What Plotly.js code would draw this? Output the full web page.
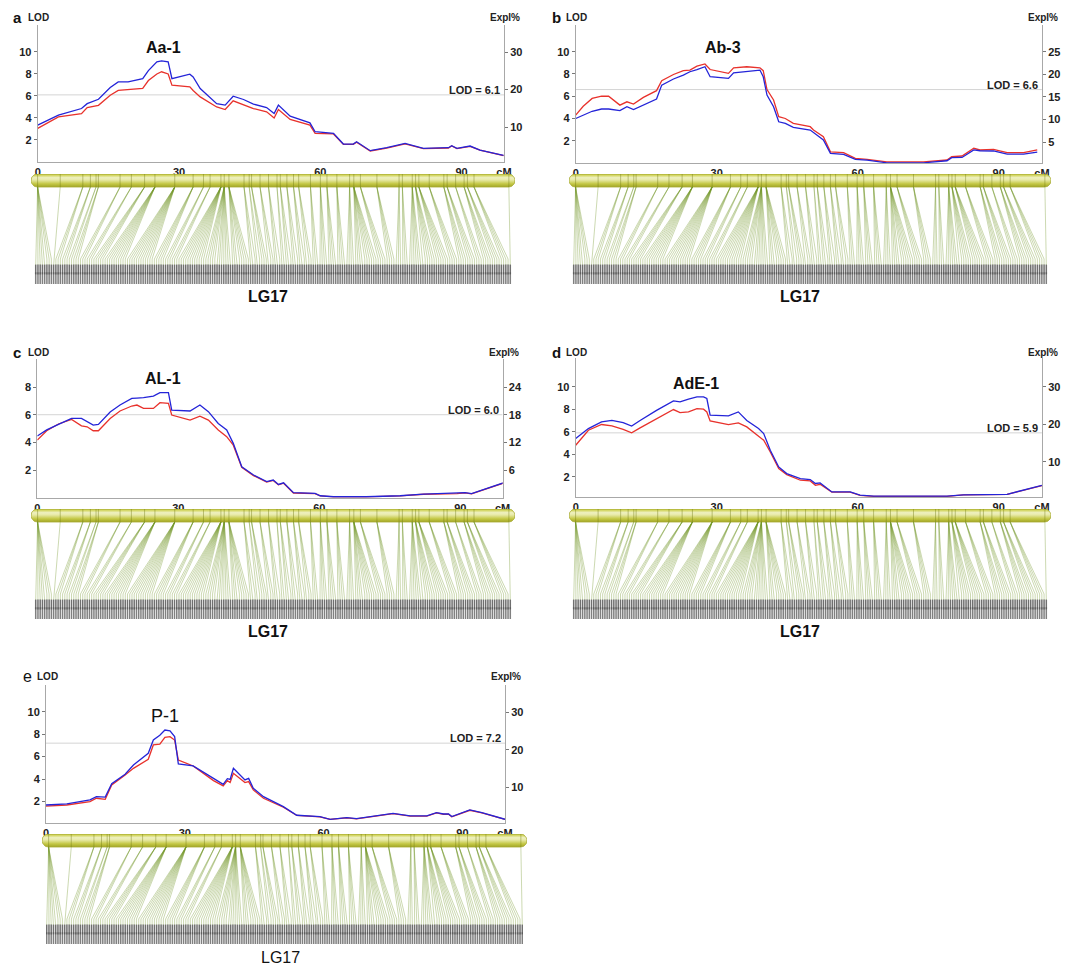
<!DOCTYPE html>
<html><head><meta charset="utf-8">
<script src="https://cdn.plot.ly/plotly-3.0.1.min.js"></script>
<style>html,body{margin:0;padding:0;background:#fff}#chart{width:1065px;height:965px}</style>
</head><body><div id="chart"></div>
<script>
// ---------------- DATA ----------------
const panelLetters = ['a','b','c','d','e'];
const qtlNames = ['Aa-1','Ab-3','AL-1','AdE-1','P-1'];
const thresholds = [6.1, 6.6, 6.0, 5.9, 7.2];
const groupName = 'LG17';
const xTickVals = [0, 30, 60, 90];
const xTickText = ['0', '30', '60', '90'];

// Panel a: Aa-1
const aCM   = [0,4.4,9.3,10.5,12.9,15.4,17.1,19.2,22.3,23.5,25.3,26.3,27.7,28.5,32.3,33.0,34.5,38.0,39.8,41.5,43.7,45.8,48.6,50.2,51.1,53.6,57.8,58.9,62.8,64.9,67.0,67.7,70.6,74.1,78.0,81.9,87.2,87.9,89.0,91.8,93.9,98.9];
const aBlue = [3.35,4.26,4.86,5.3,5.7,6.77,7.28,7.28,7.58,8.3,9.1,9.18,9.1,7.58,7.98,7.73,6.68,5.3,5.17,5.98,5.68,5.26,4.95,4.41,5.17,4.17,3.56,2.75,2.6,1.63,1.63,1.84,1.03,1.3,1.69,1.24,1.3,1.48,1.24,1.45,1.09,0.6];
const aRed  = [3.05,4.1,4.4,4.95,5.15,6.07,6.5,6.6,6.68,7.4,8.0,8.2,8.0,6.98,6.83,6.5,5.92,5.0,4.77,5.56,5.17,4.86,4.56,4.0,4.77,3.87,3.35,2.6,2.55,1.6,1.6,1.8,1.0,1.27,1.65,1.22,1.27,1.45,1.22,1.42,1.07,0.58];
// Panel b: Ab-3
const bCM   = [0,1.6,3.5,5.5,7.0,9.4,10.9,12.3,14.4,17.2,18.3,20.8,22.9,24.3,25.8,27.5,28.6,32.5,33.6,36.4,39.2,39.9,40.7,42.1,43.2,44.6,46.3,49.9,50.6,52.7,54.2,57.0,59.5,62.0,66.2,74.0,79.0,80.0,82.2,84.7,86.0,88.9,91.8,95.3,98.2];
const bRed  = [4.3,5.1,5.8,6.0,6.0,5.2,5.5,5.3,5.9,6.5,7.4,7.95,8.3,8.35,8.7,8.9,8.4,8.05,8.55,8.65,8.55,8.3,6.6,5.66,4.16,4.0,3.56,3.26,2.96,2.37,1.0,0.93,0.42,0.33,0.1,0.1,0.27,0.57,0.63,1.32,1.17,1.23,0.93,0.93,1.17];
const bBlue = [4.0,4.3,4.65,4.85,4.85,4.7,5.06,4.8,5.2,5.75,7.0,7.55,7.9,8.2,8.4,8.65,7.75,7.6,8.1,8.25,8.35,7.75,6.1,5.06,3.7,3.56,3.2,2.96,2.75,2.07,0.87,0.78,0.33,0.25,0.02,0.02,0.2,0.48,0.5,1.17,1.1,1.08,0.8,0.8,0.98];
// Panel c: AL-1
const cCM   = [0,2,4.5,7.3,9.4,10.6,11.9,13,15.5,17.6,20.1,21.2,22.6,24.7,26.1,27.9,28.6,32.5,34.6,36.4,38.5,40.3,41.7,43.5,46,48.8,50.2,51.3,52.4,54.5,59.1,60.2,63,70,77.2,82.2,89.3,91,92.4,99.2];
const cBlue = [4.46,4.9,5.3,5.73,5.73,5.5,5.25,5.3,6.2,6.7,7.18,7.2,7.23,7.35,7.6,7.6,6.34,6.27,6.7,6.22,5.37,4.9,3.93,2.24,1.64,1.16,1.28,0.96,1.08,0.36,0.31,0.14,0.07,0.07,0.14,0.26,0.31,0.36,0.29,1.08];
const cRed  = [4.17,4.84,5.33,5.66,5.2,5.13,4.84,4.84,5.73,6.27,6.63,6.7,6.46,6.46,6.87,6.82,5.98,5.61,5.9,5.61,4.89,4.41,3.8,2.2,1.6,1.13,1.25,0.93,1.05,0.34,0.3,0.13,0.06,0.06,0.13,0.25,0.3,0.35,0.28,1.06];
// Panel d: AdE-1
const dCM   = [0,2.7,5.5,7.7,10.1,11.9,13.7,17.2,20.8,22.2,24,25.8,27.2,27.9,28.6,32.5,34.6,36.4,38.9,40,41.4,43.2,44.9,47.8,49.9,51,52,54.5,58.4,60.5,63.4,68.3,79,82.5,89.6,91.8,99.2];
const dBlue = [5.4,6.28,6.87,7.0,6.8,6.5,7.0,7.9,8.74,8.65,8.9,9.1,9.1,8.95,7.47,7.4,7.76,7.0,6.28,5.84,4.36,2.87,2.28,1.84,1.75,1.4,1.45,0.65,0.65,0.36,0.27,0.27,0.27,0.39,0.44,0.44,1.24];
const dRed  = [4.8,6.13,6.64,6.52,6.2,5.9,6.34,7.17,7.97,7.7,7.76,8.06,8.0,7.76,6.96,6.64,6.79,6.43,5.6,5.24,4.2,2.72,2.19,1.69,1.63,1.24,1.33,0.63,0.63,0.35,0.26,0.26,0.26,0.38,0.43,0.43,1.22];
// Panel e: P-1
const eCM   = [0,4.5,9.5,10.9,12.8,14.2,17.1,18.9,22.1,23.2,24.6,25.7,26.8,27.8,28.6,31.8,36.2,38.3,39.2,39.8,40.5,43,43.8,44.8,47,51.3,54.2,59.2,61.4,65,67.1,75,78.7,82.3,84.4,85.9,87,87.7,91.6,94.2,99.2];
const eBlue = [1.7,1.8,2.15,2.44,2.4,3.6,4.44,5.26,6.3,7.48,7.9,8.37,8.3,7.78,5.35,5.17,4.07,3.54,4.04,3.98,4.96,3.93,4.07,3.19,2.44,1.56,0.79,0.67,0.43,0.58,0.49,0.96,0.73,0.73,1.02,0.9,0.9,0.67,1.26,1.02,0.43];
const eRed  = [1.6,1.7,2.0,2.3,2.2,3.48,4.37,4.96,5.76,7.04,7.12,7.72,7.78,7.48,5.7,5.17,3.87,3.4,3.87,3.7,4.52,3.69,3.78,3.04,2.3,1.5,0.77,0.65,0.42,0.56,0.47,0.93,0.71,0.71,1.0,0.88,0.88,0.65,1.23,1.0,0.42];

// Linkage map LG17: marker positions (cM) and number of markers at each position
const markerCM    = [0,4.8,9.6,11.2,12.4,12.9,17.5,19.9,22.7,24.9,29.1,33.0,35.2,36.6,38.9,39.6,40.6,43.8,44.9,45.4,47.2,49.0,50.8,51.5,52.9,54.3,55.4,57.9,60.0,61.4,63.5,66.2,67.1,68.5,72.0,76.7,77.4,79.5,80.2,80.9,83.1,86.2,86.9,88.7,90.5,91.2,92.6,100.0];
const markerCount = [8,1,3,3,2,3,3,3,5,10,12,5,3,3,12,12,8,3,2,3,3,3,2,3,3,3,3,3,4,4,4,4,10,4,4,3,3,6,6,6,4,4,4,3,4,4,4,1];

const lodTicks  = [[2,4,6,8,10],[2,4,6,8,10],[2,4,6,8],[2,4,6,8,10],[2,4,6,8,10]];
const explTicks = [[10,20,30],[5,10,15,20,25],[6,12,18,24],[10,20,30],[10,20,30]];

// ---------------- LAYOUT (pixel geometry) ----------------
const W = 1065, H = 965;
const series = [[aCM,aRed,aBlue],[bCM,bRed,bBlue],[cCM,cRed,cBlue],[dCM,dRed,dBlue],[eCM,eRed,eBlue]];
const geo = [
 {L:37.7, s:4.71, xmax:99,   top:25,  bot:162,   lodR:[0,12.45], explR:[0.67,37.2], tx:163,   ty:48,  tb:true,  barTop:174, barL:31,  barR:515,  lgx:268, lgy:296, lgb:true,  letx:17,  lety:17},
 {L:575.7,s:4.7,  xmax:99.2, top:25,  bot:163,   lodR:[0,12.4],  explR:[0.35,30.9], tx:722.7, ty:48,  tb:true,  barTop:174, barL:569, barR:1051, lgx:800, lgy:296, lgb:true,  letx:556, lety:17},
 {L:37.3, s:4.7,  xmax:99,   top:359, bot:497.7, lodR:[0,10.03], explR:[0,30.1],    tx:163,   ty:378, tb:true,  barTop:509, barL:31,  barR:515,  lgx:268, lgy:631, lgb:true,  letx:17,  lety:352},
 {L:575.7,s:4.7,  xmax:99.2, top:358, bot:497,   lodR:[0.2,12.55],explR:[0.67,37.7],tx:695.7, ty:383, tb:true,  barTop:509, barL:569, barR:1051, lgx:800, lgy:631, lgb:true,  letx:556, lety:352},
 {L:46,   s:4.627,xmax:99.2, top:685, bot:823,   lodR:[0.1,12.37],explR:[0.4,37.3], tx:165,   ty:716, tb:false, barTop:834, barL:42,  barR:527,  lgx:280, lgy:957, lgb:false, letx:27,  lety:676}
];
const MAPR = [-1.4, 101.3];   // map x range (cM) covered by the chromosome bar
const MAPH = 110;             // map y-units (=px) from bar top to label bottom
const FONT = 'Liberation Sans, Arial, sans-serif';
const NARROW = 'Liberation Sans Narrow, Arial Narrow, Liberation Sans, Arial, sans-serif';
const AX = '#a8a8a8';
const TF = {family: NARROW, size: 11, color: '#222', weight: 'bold'};

const px2x = p => p / W, py2y = p => 1 - p / H;
const nm = (k, n) => k + (n === 1 ? '' : n);

const traces = [];
const layout = {
  width: W, height: H, margin: {l:0, r:0, t:0, b:0}, showlegend: false, hovermode: false,
  paper_bgcolor: '#fff', plot_bgcolor: 'rgba(0,0,0,0)', font: {family: FONT, color: '#222'},
  annotations: [], shapes: []
};

// flatten map markers
const mPos = [];
markerCM.forEach((p, i) => { for (let k = 0; k < markerCount[i]; k++) mPos.push(p); });
const nM = mPos.length;
const labStart = -0.4, labEnd = 100.3;
const labPos = mPos.map((_, i) => labStart + (labEnd - labStart) * i / (nM - 1));

geo.forEach((G, i) => {
  const xa = 2*i+1, xb = 2*i+2, ya = 3*i+1, yb = 3*i+2, yc = 3*i+3;
  const [cm, red, blue] = series[i];
  // axes
  layout[nm('xaxis', xa)] = {domain:[px2x(G.L), px2x(G.L + G.xmax*G.s)], range:[0, G.xmax], anchor:nm('y', ya),
    showline:true, linecolor:AX, linewidth:1, ticks:'', showgrid:false, zeroline:false,
    tickmode:'array', tickvals:[...xTickVals, G.xmax], ticktext:[...xTickText, 'cM'], tickfont:TF, fixedrange:true};
  layout[nm('yaxis', ya)] = {domain:[py2y(G.bot), py2y(G.top)], range:G.lodR, anchor:nm('x', xa), side:'left',
    showline:true, linecolor:AX, linewidth:1, ticks:'outside', ticklen:3, tickcolor:'#777', showgrid:false, zeroline:false,
    tickmode:'array', tickvals:lodTicks[i], tickfont:TF, fixedrange:true};
  layout[nm('yaxis', yb)] = {overlaying:nm('y', ya), range:G.explR, anchor:nm('x', xa), side:'right',
    showline:true, linecolor:AX, linewidth:1, ticks:'outside', ticklen:3, tickcolor:'#777', showgrid:false, zeroline:false,
    tickmode:'array', tickvals:explTicks[i], tickfont:TF, fixedrange:true};
  layout[nm('xaxis', xb)] = {domain:[px2x(G.barL), px2x(G.barR)], range:MAPR, anchor:nm('y', yc), visible:false, fixedrange:true};
  layout[nm('yaxis', yc)] = {domain:[py2y(G.barTop + MAPH), py2y(G.barTop)], range:[0, MAPH], anchor:nm('x', xb), visible:false, fixedrange:true};

  const xr = nm('x', xa), yr = nm('y', ya);
  // threshold line
  layout.shapes.push({type:'line', xref:xr, yref:yr, x0:0, x1:G.xmax, y0:thresholds[i], y1:thresholds[i],
    line:{color:'#d4d4d4', width:1}, layer:'below'});
  layout.annotations.push({xref:xr, yref:yr, x:G.xmax, y:thresholds[i], xanchor:'right', yanchor:'bottom', xshift:-2, yshift:-3,
    text:'LOD = ' + thresholds[i].toFixed(1), showarrow:false, font:{family:NARROW, size:11, color:'#222', weight:'bold'}});
  // curves
  traces.push({type:'scatter', mode:'lines', x:cm, y:red, xaxis:xr, yaxis:yr, line:{color:'#e8322c', width:1.3}});
  traces.push({type:'scatter', mode:'lines', x:cm, y:blue, xaxis:xr, yaxis:yr, line:{color:'#2424d8', width:1.3}});
  traces.push({type:'scatter', mode:'lines', x:[null], y:[null], xaxis:xr, yaxis:nm('y', yb)});

  // texts
  layout.annotations.push({xref:'paper', yref:'paper', x:px2x(G.letx), y:py2y(G.lety), xanchor:'center', yanchor:'middle',
    text: i === 4 ? panelLetters[i] : '<b>' + panelLetters[i] + '</b>', showarrow:false,
    font:{family:FONT, size: i === 4 ? 16 : 15, color:'#111'}});
  layout.annotations.push({xref:'paper', yref:'paper', x:px2x(G.L + 1), y:py2y(G.lety), xanchor:'center', yanchor:'middle',
    text:'LOD', showarrow:false, font:{family:NARROW, size:10, color:'#222', weight:'bold'}});
  layout.annotations.push({xref:'paper', yref:'paper', x:px2x(G.L + G.xmax*G.s + 1), y:py2y(G.lety), xanchor:'center', yanchor:'middle',
    text:'Expl%', showarrow:false, font:{family:NARROW, size:10, color:'#222', weight:'bold'}});
  layout.annotations.push({xref:'paper', yref:'paper', x:px2x(G.tx), y:py2y(G.ty), xanchor:'center', yanchor:'middle',
    text: G.tb ? '<b>' + qtlNames[i] + '</b>' : qtlNames[i], showarrow:false, font:{family:FONT, size: G.tb ? 16 : 18, color:'#111'}});
  layout.annotations.push({xref:'paper', yref:'paper', x:px2x(G.lgx), y:py2y(G.lgy), xanchor:'center', yanchor:'middle',
    text: G.lgb ? '<b>' + groupName + '</b>' : groupName, showarrow:false, font:{family:FONT, size:16, color:'#111'}});

  // ------- linkage map -------
  const mx = nm('x', xb), my = nm('y', yc);
  const sMap = (G.barR - G.barL) / (MAPR[1] - MAPR[0]);
  const barBot = MAPH - 13, barTopY = MAPH, rY = 6.5, rX = rY / sMap, cy = (barBot + barTopY) / 2;
  const bx = [], by = [];
  for (let k = 0; k <= 16; k++) { const t = Math.PI/2 + Math.PI*k/16; bx.push(MAPR[0] + rX + rX*Math.cos(t)); by.push(cy + rY*Math.sin(t)); }
  for (let k = 0; k <= 16; k++) { const t = -Math.PI/2 + Math.PI*k/16; bx.push(MAPR[1] - rX + rX*Math.cos(t)); by.push(cy + rY*Math.sin(t)); }
  bx.push(bx[0]); by.push(by[0]);
  traces.push({type:'scatter', mode:'lines', x:bx, y:by, xaxis:mx, yaxis:my, fill:'toself', fillcolor:'#d2d45e',
    fillgradient:{type:'vertical', colorscale:[[0,'#a2a626'],[0.25,'#c4c846'],[0.55,'#e8eaa8'],[0.72,'#eef0c0'],[0.88,'#d6d96c'],[1,'#bcc03e']]},
    line:{color:'#a8ab34', width:0.8}});
  // marker ticks on bar
  const tx = [], ty = [];
  markerCM.forEach(p => { tx.push(p, p, null); ty.push(barBot, barTopY, null); });
  traces.push({type:'scatter', mode:'lines', x:tx, y:ty, xaxis:mx, yaxis:my, line:{color:'rgba(110,120,20,0.6)', width:0.7}});
  // fan lines
  const fx = [], fy = [];
  mPos.forEach((p, k) => { fx.push(p, labPos[k], labPos[k], null); fy.push(barBot, 25, 19, null); });
  traces.push({type:'scatter', mode:'lines', x:fx, y:fy, xaxis:mx, yaxis:my, line:{color:'rgba(112,148,36,0.6)', width:0.6}});
  // marker labels (tiny vertical names rendered as strokes, two tiers)
  traces.push({type:'scatter', mode:'markers', x:labPos, y:labPos.map(() => 14.5), xaxis:mx, yaxis:my,
    marker:{symbol:'line-ns', size:7, line:{width:1.5, color:'rgba(75,75,75,0.8)'}}});
  traces.push({type:'scatter', mode:'markers', x:labPos, y:labPos.map(() => 5.5), xaxis:mx, yaxis:my,
    marker:{symbol:'line-ns', size:9, line:{width:1.5, color:'rgba(85,85,85,0.75)'}}});
});

Plotly.newPlot('chart', traces, layout, {staticPlot:true, displayModeBar:false});
</script></body></html>
